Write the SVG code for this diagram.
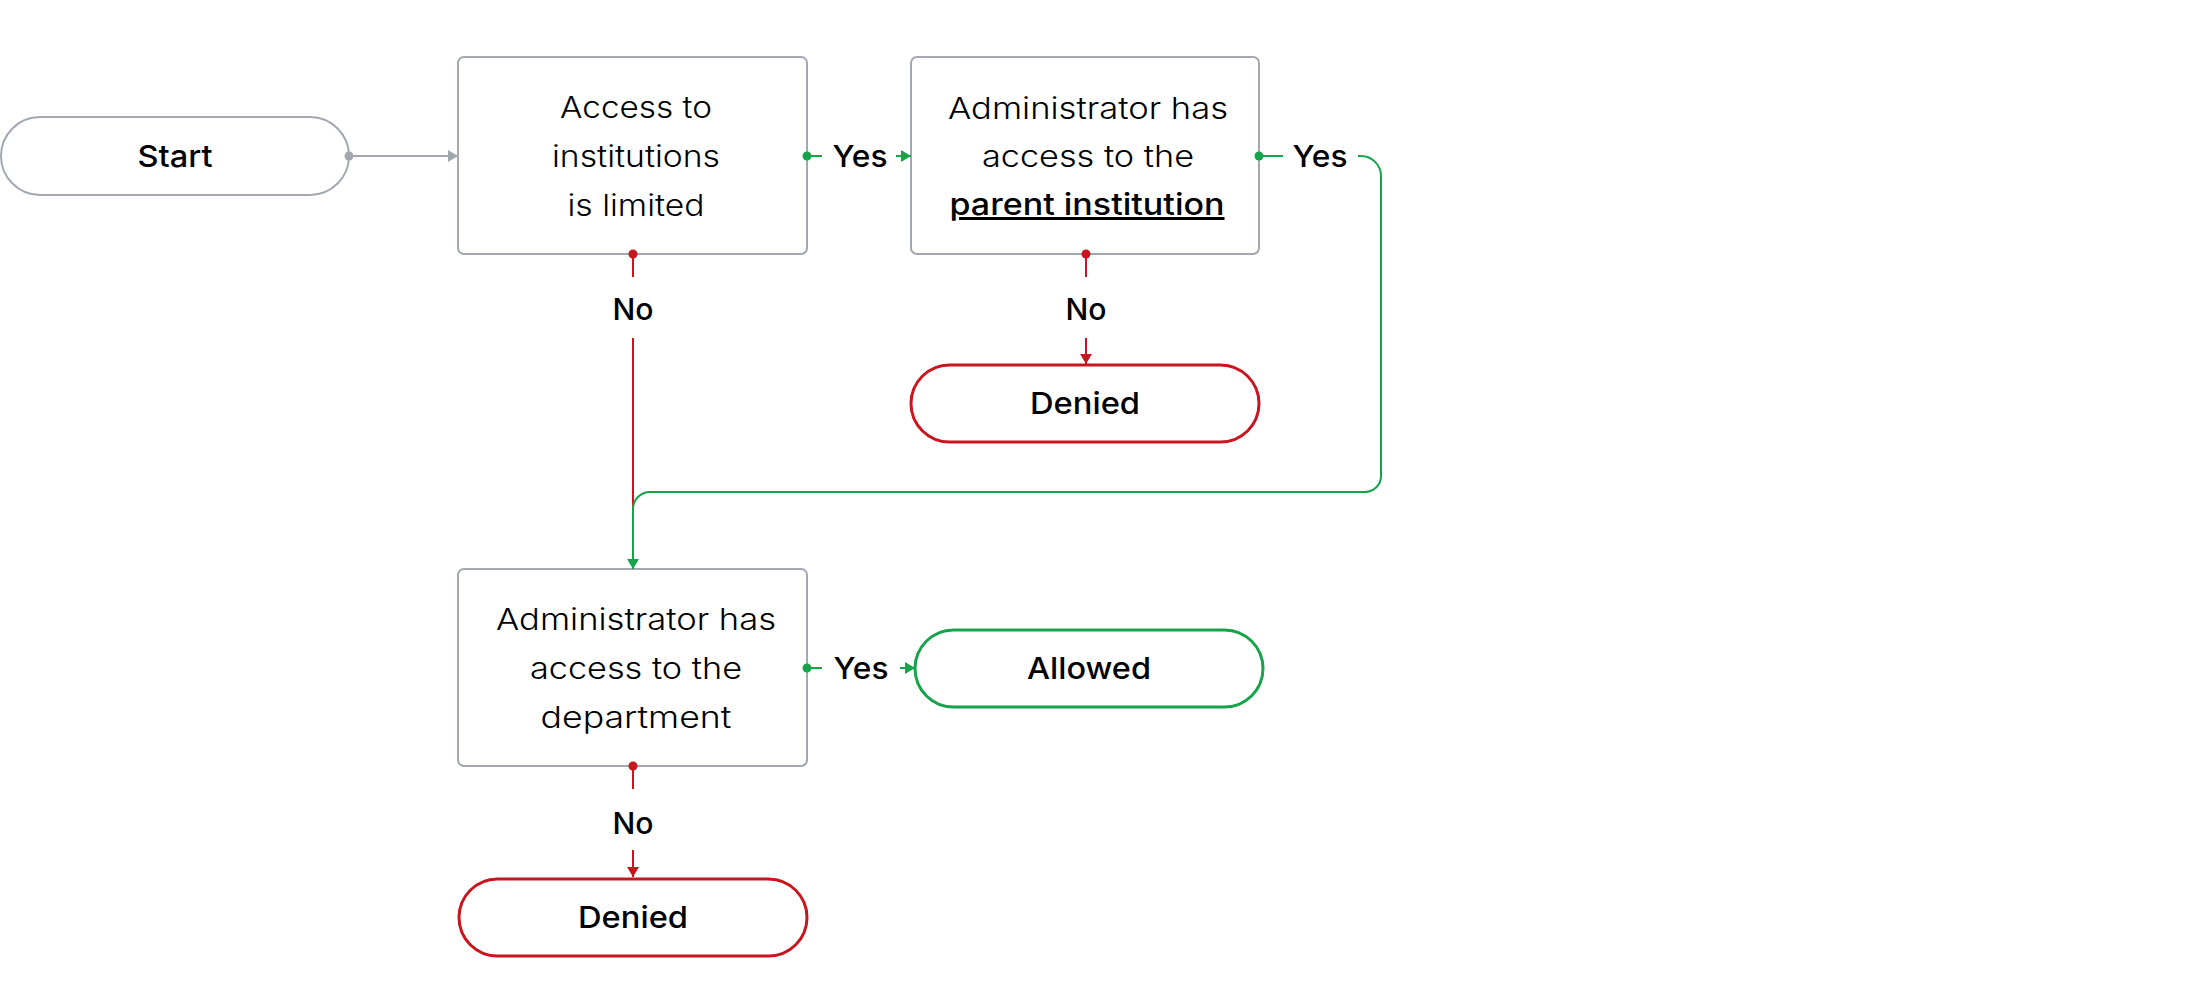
<svg xmlns="http://www.w3.org/2000/svg" width="2200" height="993" viewBox="0 0 2200 993">
<style>
.box{fill:#fff;stroke:#A3A7B0;stroke-width:2}
.pill-g{fill:#fff;stroke:#A3A7B0;stroke-width:2}
.pill-r{fill:#fff;stroke:#C8161E;stroke-width:3}
.pill-ok{fill:#fff;stroke:#17A34A;stroke-width:3}
.t{font-family:Inter,"Liberation Sans",sans-serif;font-size:30px;font-weight:300;fill:#000;text-anchor:middle}
.b{font-family:Inter,"Liberation Sans",sans-serif;font-size:30px;font-weight:500;fill:#000;text-anchor:middle}
.l{font-family:Inter,"Liberation Sans",sans-serif;font-size:30px;font-weight:500;fill:#000;text-anchor:middle}
.gray{fill:none;stroke:#A3A7B0;stroke-width:2}
.red{fill:none;stroke:#C8161E;stroke-width:2}
.green{fill:none;stroke:#17A34A;stroke-width:2}
</style>
<defs>
<marker id="ag" markerUnits="userSpaceOnUse" markerWidth="12" markerHeight="12" refX="10" refY="6" orient="auto"><path d="M0,0 L10,6 L0,12 Z" fill="#A3A7B0"/></marker>
<marker id="ar" markerUnits="userSpaceOnUse" markerWidth="12" markerHeight="12" refX="10" refY="6" orient="auto"><path d="M0,0 L10,6 L0,12 Z" fill="#C8161E"/></marker>
<marker id="agr" markerUnits="userSpaceOnUse" markerWidth="12" markerHeight="12" refX="10" refY="6" orient="auto"><path d="M0,0 L10,6 L0,12 Z" fill="#17A34A"/></marker>
</defs>
<rect width="2200" height="993" fill="#fff"/>
<g id="start">
<rect class="pill-g" x="1" y="117" width="348" height="78" rx="39"/>
<text class="b" x="175" y="167" textLength="75" lengthAdjust="spacingAndGlyphs">Start</text>
</g>
<g id="limited">
<rect class="box" x="458" y="57" width="349" height="197" rx="6"/>
<text class="t" x="636" y="118" textLength="152" lengthAdjust="spacingAndGlyphs">Access to</text>
<text class="t" x="636" y="167" textLength="168" lengthAdjust="spacingAndGlyphs">institutions</text>
<text class="t" x="636" y="216" textLength="137" lengthAdjust="spacingAndGlyphs">is limited</text>
</g>
<g id="parent">
<rect class="box" x="911" y="57" width="348" height="197" rx="6"/>
<text class="t" x="1088" y="119" textLength="280" lengthAdjust="spacingAndGlyphs">Administrator has</text>
<text class="t" x="1088" y="167" textLength="212" lengthAdjust="spacingAndGlyphs">access to the</text>
<text class="b" x="1087" y="215" textLength="275" lengthAdjust="spacingAndGlyphs" text-decoration="underline">parent institution</text>
</g>
<g id="denied1">
<rect class="pill-r" x="911" y="365" width="348" height="77" rx="38.5"/>
<text class="b" x="1085" y="414" textLength="110" lengthAdjust="spacingAndGlyphs">Denied</text>
</g>
<g id="department">
<rect class="box" x="458" y="569" width="349" height="197" rx="6"/>
<text class="t" x="636" y="630" textLength="280" lengthAdjust="spacingAndGlyphs">Administrator has</text>
<text class="t" x="636" y="679" textLength="212" lengthAdjust="spacingAndGlyphs">access to the</text>
<text class="t" x="636" y="728" textLength="191" lengthAdjust="spacingAndGlyphs">department</text>
</g>
<g id="allowed">
<rect class="pill-ok" x="915" y="630" width="348" height="77" rx="38.5"/>
<text class="b" x="1089" y="679" textLength="124" lengthAdjust="spacingAndGlyphs">Allowed</text>
</g>
<g id="denied2">
<rect class="pill-r" x="459" y="879" width="348" height="77" rx="38.5"/>
<text class="b" x="633" y="928" textLength="110" lengthAdjust="spacingAndGlyphs">Denied</text>
</g>
<g id="connectors">
<path class="gray" d="M349,156 H458" marker-end="url(#ag)"/>
<circle cx="349" cy="156" r="4.5" fill="#A3A7B0"/>
<path class="green" d="M807,156 H822"/>
<path class="green" d="M896,156 H911" marker-end="url(#agr)"/>
<circle cx="807" cy="156" r="4.5" fill="#17A34A"/>
<path class="red" d="M633,254 V277"/>
<path class="red" d="M633,338 V560"/>
<circle cx="633" cy="254" r="4.5" fill="#C8161E"/>
<path class="green" d="M1259,156 H1283"/>
<path class="green" d="M1358,156 H1361 A20,20 0 0 1 1381,176 V476 A16,16 0 0 1 1365,492 H650 A17,17 0 0 0 633,509 V569" marker-end="url(#agr)"/>
<circle cx="1259" cy="156" r="4.5" fill="#17A34A"/>
<path class="red" d="M1086,254 V277"/>
<path class="red" d="M1086,338 V364" marker-end="url(#ar)"/>
<circle cx="1086" cy="254" r="4.5" fill="#C8161E"/>
<path class="green" d="M807,668 H822"/>
<path class="green" d="M900,668 H915" marker-end="url(#agr)"/>
<circle cx="807" cy="668" r="4.5" fill="#17A34A"/>
<path class="red" d="M633,766 V789"/>
<path class="red" d="M633,850 V877" marker-end="url(#ar)"/>
<circle cx="633" cy="766" r="4.5" fill="#C8161E"/>
<text class="l" x="860" y="167" textLength="55" lengthAdjust="spacingAndGlyphs">Yes</text>
<text class="l" x="633" y="320" textLength="41" lengthAdjust="spacingAndGlyphs">No</text>
<text class="l" x="1320" y="167" textLength="55" lengthAdjust="spacingAndGlyphs">Yes</text>
<text class="l" x="1086" y="320" textLength="41" lengthAdjust="spacingAndGlyphs">No</text>
<text class="l" x="861" y="679" textLength="55" lengthAdjust="spacingAndGlyphs">Yes</text>
<text class="l" x="633" y="834" textLength="41" lengthAdjust="spacingAndGlyphs">No</text>
</g>
</svg>
